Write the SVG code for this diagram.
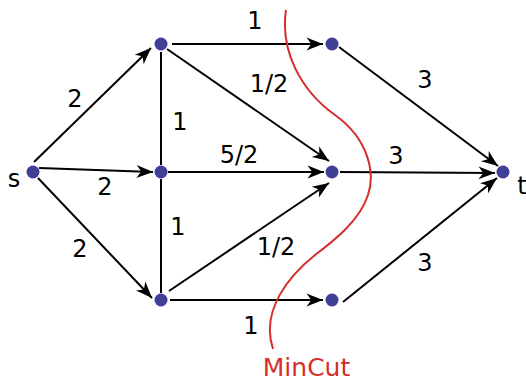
<svg xmlns="http://www.w3.org/2000/svg" width="526" height="381" viewBox="0 0 526 381">
<defs>
<marker id="arr" markerUnits="userSpaceOnUse" markerWidth="20" markerHeight="20" viewBox="-16 -8 17 16" refX="0" refY="0" orient="auto">
<path d="M0,0 L-14,-5.5 L-10,0 L-14,5.5 Z" fill="#000"/>
</marker>
</defs>
<style>
.e{stroke:#000;stroke-width:2;fill:none}
.a{marker-end:url(#arr)}
.n{fill:#3f3f95}
text{font-family:"DejaVu Sans",sans-serif;font-size:24px;fill:#000}
.lbl{text-anchor:middle}
</style>
<rect width="526" height="381" fill="#fff"/>
<g id="connectors">
<line class="e a" x1="34" y1="162" x2="151" y2="48"/>
<line class="e a" x1="39" y1="168" x2="153" y2="172"/>
<line class="e a" x1="38" y1="178" x2="152" y2="298"/>
<line class="e" x1="161" y1="52" x2="161" y2="165"/>
<line class="e" x1="161" y1="179" x2="161" y2="293"/>
<line class="e a" x1="172" y1="44" x2="323" y2="44"/>
<line class="e a" x1="167" y1="49" x2="329" y2="161"/>
<line class="e a" x1="168" y1="172" x2="324" y2="172"/>
<line class="e a" x1="169" y1="291" x2="329" y2="183"/>
<line class="e a" x1="170" y1="300" x2="323" y2="300"/>
<line class="e a" x1="339" y1="47" x2="498" y2="166"/>
<line class="e a" x1="340" y1="172" x2="495" y2="173"/>
<line class="e a" x1="343" y1="302" x2="497" y2="178"/>
</g>
<g id="labels">
<text class="lbl" x="255" y="29">1</text>
<text class="lbl" x="269" y="92">1/2</text>
<text class="lbl" x="425" y="88">3</text>
<text class="lbl" x="75" y="107">2</text>
<text class="lbl" x="180" y="130">1</text>
<text class="lbl" x="239" y="163">5/2</text>
<text class="lbl" x="396" y="164">3</text>
<text class="lbl" x="105" y="195">2</text>
<text class="lbl" x="178" y="235">1</text>
<text class="lbl" x="80" y="257">2</text>
<text class="lbl" x="276" y="255">1/2</text>
<text class="lbl" x="425" y="271">3</text>
<text class="lbl" x="251" y="334">1</text>
</g>
<g id="s"><circle class="n" cx="33" cy="172" r="6.5"/><text class="lbl" x="14" y="187">s</text></g>
<g id="a"><circle class="n" cx="161" cy="44" r="6.5"/></g>
<g id="b"><circle class="n" cx="161" cy="172" r="6.5"/></g>
<g id="c"><circle class="n" cx="161" cy="300" r="6.5"/></g>
<g id="d"><circle class="n" cx="332" cy="44" r="6.5"/></g>
<g id="e"><circle class="n" cx="332" cy="172" r="6.5"/></g>
<g id="f"><circle class="n" cx="332" cy="300" r="6.5"/></g>
<g id="t"><circle class="n" cx="503" cy="172" r="6.5"/><text class="lbl" x="522" y="194">t</text></g>
<g id="mincut">
<path d="M286,10 C280,50 300,90 335,115 C370,140 375,175 368,195 C360,220 335,240 315,255 C290,275 260,310 273,349" fill="none" stroke="#d62d2d" stroke-width="2"/>
<text x="306.5" y="376" text-anchor="middle" style="fill:#d62d2d;font-size:25px">MinCut</text>
</g>
</svg>
